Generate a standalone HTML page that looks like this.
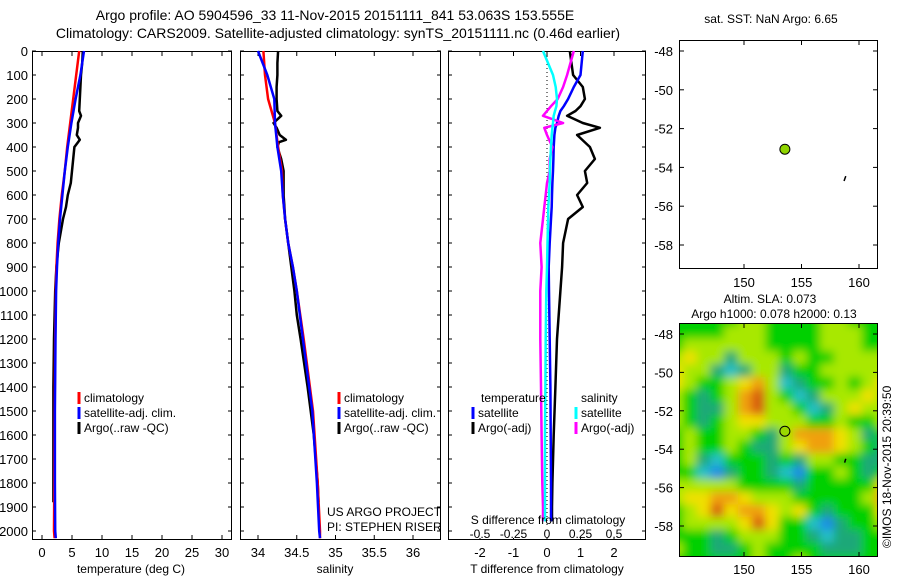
<!DOCTYPE html>
<html><head><meta charset="utf-8"><style>
body{margin:0;background:#fff;}
svg{display:block;font-family:"Liberation Sans","DejaVu Sans",sans-serif;}
text{fill:#000;}
</style></head><body>
<svg id="fig" width="900" height="580" viewBox="0 0 900 580">
<defs>
<filter id="blur" filterUnits="userSpaceOnUse" x="660" y="300" width="240" height="280"><feGaussianBlur stdDeviation="4.5"/></filter>
<clipPath id="mapclip"><rect x="679" y="323" width="198" height="233"/></clipPath>
</defs>
<text x="335" y="20" font-size="14" text-anchor="middle">Argo profile: AO 5904596_33 11-Nov-2015 20151111_841 53.063S 153.555E</text>
<text x="338" y="38" font-size="14" text-anchor="middle">Climatology: CARS2009. Satellite-adjusted climatology: synTS_20151111.nc (0.46d earlier)</text>
<g id="content"></g>
</svg>
<script>
// ---------- data ----------
const depthTicks = [0,100,200,300,400,500,600,700,800,900,1000,1100,1200,1300,1400,1500,1600,1700,1800,1900,2000];
const tempTicks = [0,5,10,15,20,25,30];
const salTicks = [34,34.5,35,35.5,36];
const salTickLabels = ["34","34.5","35","35.5","36"];
const tdiffTicks = [-2,-1,0,1,2];
const sdiffTicks = [-0.5,-0.25,0,0.25,0.5];
const sdiffTickLabels = ["-0.5","-0.25","0","0.25","0.5"];

const climDepth = [0,100,200,300,400,500,600,700,800,900,1000,1200,1500,1800,2000,2030];
const climTemp  = [6.2,5.7,5.2,4.7,4.2,3.8,3.3,2.9,2.6,2.4,2.3,2.2,2.1,2.05,2.0,2.1];
const satTemp   = [7.0,6.4,5.6,4.9,4.3,3.8,3.4,3.0,2.7,2.5,2.35,2.25,2.15,2.15,2.2,2.3];
const climSal   = [34.07,34.09,34.13,34.22,34.26,34.31,34.32,34.35,34.39,34.45,34.5,34.59,34.71,34.77,34.8,34.8];
const satSal    = [34.0,34.12,34.21,34.22,34.25,34.3,34.32,34.35,34.39,34.45,34.5,34.58,34.7,34.76,34.79,34.8];

const argoDepth = [0,50,100,150,200,250,270,300,320,350,370,380,400,450,500,550,600,650,700,800,900,1000,1100,1200,1400,1600,1800,1880];
const argoTemp  = [6.8,6.7,6.5,6.4,6.3,6.2,6.5,6.0,6.0,5.8,6.3,6.0,5.4,5.2,5.0,4.8,4.3,4.0,3.5,2.8,2.4,2.2,2.1,2.0,1.9,1.9,1.9,1.9];
const argoSal   = [34.26,34.25,34.25,34.24,34.24,34.25,34.3,34.2,34.24,34.28,34.36,34.27,34.25,34.3,34.33,34.33,34.33,34.34,34.35,34.39,34.43,34.47,34.5,34.55,34.64,34.72,34.77,34.78];

const diffDepth = [0,100,150,200,230,250,270,300,320,350,400,450,500,550,600,650,700,800,900,1000,1200,1400,1600,1800,1900,1960];
const satTdiff  = [1.07,1.0,0.8,0.63,0.5,0.4,0.35,0.3,0.25,0.22,0.2,0.19,0.18,0.16,0.15,0.14,0.12,0.08,0.05,0.06,0.08,0.1,0.11,0.12,0.12,0.12];
const satSdiff  = [-0.03,0.045,0.065,0.075,0.07,0.06,0.05,0.045,0.04,0.035,0.03,0.025,0.022,0.02,0.015,0.01,0.008,0.004,0.0,-0.005,-0.01,-0.012,-0.015,-0.015,-0.015,-0.015];
const argoTdiff = [0.68,0.78,1.07,1.13,1.0,0.85,0.6,1.07,1.58,0.9,1.28,1.43,1.13,1.2,0.9,1.07,0.63,0.48,0.45,0.4,0.3,0.25,0.2,0.16,0.15,0.15];
const argoSdiff = [0.2,0.15,0.12,0.08,0.03,0.0,-0.03,0.12,-0.02,0.0,0.04,0.02,0.02,0.0,-0.01,-0.02,-0.03,-0.05,-0.04,-0.05,-0.05,-0.045,-0.04,-0.035,-0.03,-0.03];

const mapLonTicks = [150,155,160];
const mapLatTicks = [-48,-50,-52,-54,-56,-58];
const argoLon = 153.555, argoLat = -53.063;
// SLA anomaly class grid (rows north->south, cols west->east)
const slaGrid = [
[0,0,0,0,0,1,1,0,0,0,0,1,1,0,0,0],
[0,0,0,0,1,1,1,0,0,0,0,1,1,1,0,0],
[0,1,1,1,1,1,1,0,0,0,0,1,1,1,0,0],
[1,2,1,1,-1,1,1,1,0,1,0,0,1,1,1,1],
[2,1,1,-1,-2,-1,1,1,-1,0,0,1,1,1,1,1],
[2,1,0,0,1,2,3,1,-2,-1,0,0,1,0,1,2],
[1,0,-1,0,1,3,4,1,0,-2,-1,1,1,1,2,1],
[1,0,-1,-1,1,3,4,1,1,0,-2,-1,1,2,1,1],
[1,0,-1,0,1,2,2,1,1,1,0,0,1,0,0,1],
[0,1,0,0,1,1,0,-1,1,3,3,3,2,1,-1,0],
[0,1,0,0,1,0,-1,-1,1,2,3,3,2,1,0,-1],
[0,1,-1,-2,0,0,0,-1,0,-1,1,1,0,0,-1,-1],
[0,0,-2,-3,-1,0,0,-1,-2,-3,0,0,1,0,-1,0],
[1,1,1,1,1,0,0,0,0,-1,0,0,0,0,0,2],
[1,2,2,3,3,2,1,1,1,0,0,0,0,0,1,3],
[0,1,2,4,2,3,3,2,1,2,0,-1,0,0,0,2],
[0,1,1,1,1,2,4,2,0,0,-2,-3,-1,0,0,1],
[0,0,0,-1,0,1,1,1,0,0,-1,-2,-1,-1,0,0],
[1,0,0,-1,-1,0,1,0,0,0,0,-1,-1,-1,0,0],
[0,0,0,0,0,0,1,0,0,1,0,0,0,0,0,0]];

// ---------- drawing ----------
const NS="http://www.w3.org/2000/svg";
const root=document.getElementById('content');
function el(tag,attrs,parent){const e=document.createElementNS(NS,tag);for(const k in attrs)e.setAttribute(k,attrs[k]);(parent||root).appendChild(e);return e;}
function txt(x,y,s,size,anchor,parent){const t=el('text',{x:x,y:y,'font-size':size||13,'text-anchor':anchor||'middle'},parent);t.textContent=s;return t;}

const yD = d => 51 + d*0.24;
const xT = v => 42 + v*6;
const xS = v => 258 + (v-34)*77.5;
const xTd = v => 547 + v*33.5;
const xSd = v => 547 + v*134;
const mapX = lon => 744 + (lon-150)*11.5;

function panel(x0,x1,name){
  const g=el('g',{});
  
  
  el('rect',{x:x0+0.5,y:51.5,width:x1-x0,height:488,fill:'none',stroke:'#000','stroke-width':1},g);
  return g;
}
function series(g,xs,ds,fx,color,w,name){
  const p=el('polyline',{points:xs.map((v,i)=>fx(v).toFixed(1)+','+yD(ds[i]).toFixed(1)).join(' '),fill:'none',stroke:color,'stroke-width':w,'stroke-linejoin':'round'},g);
  
  
}
function xticks(g,ticks,labels,fx,ly,top){
  ticks.forEach((t,i)=>{const x=fx(t);
    el('line',{x1:x,y1:539,x2:x,y2:535,stroke:'#000'},g);
    if(top!==false) el('line',{x1:x,y1:52,x2:x,y2:56,stroke:'#000'},g);
    if(labels){const l=txt(x,ly,labels[i],13,'middle',g);
      
      }
  });
}
function yticks(g,x0,x1,labels){
  depthTicks.forEach(d=>{const y=yD(d);
    el('line',{x1:x0,y1:y,x2:x0+4,y2:y,stroke:'#000'},g);
    el('line',{x1:x1,y1:y,x2:x1-4,y2:y,stroke:'#000'},g);
    if(labels){const l=txt(28,y+5,String(d),13,'end',g);
      
      }
  });
}
function legendEntry(g,x,y,color,label){
  const e=el('g',{},g);
  
  
  el('line',{x1:x,y1:y-10,x2:x,y2:y+2,stroke:color,'stroke-width':3},e);
  txt(x+5,y,label,12,'start',e);
}

// panel 1 temperature
const p1=panel(32,231,'temperature-panel');
yticks(p1,32,232,true);
xticks(p1,tempTicks,tempTicks.map(String),xT,557);
series(p1,argoTemp,argoDepth,xT,'#000',2.5,'argo-temperature-line');
series(p1,climTemp,climDepth,xT,'#f00',2.5,'climatology-temperature-line');
series(p1,satTemp,climDepth,xT,'#00f',2.5,'satellite-temperature-line');
txt(131,573,'temperature (deg C)',12,'middle',p1);
legendEntry(p1,79,402,'#f00','climatology');
legendEntry(p1,79,417,'#00f','satellite-adj. clim.');
legendEntry(p1,79,432,'#000','Argo(..raw -QC)');

// panel 2 salinity
const p2=panel(240,440,'salinity-panel');
yticks(p2,240,441,false);
xticks(p2,salTicks,salTickLabels,xS,557);
series(p2,argoSal,argoDepth,xS,'#000',2.5,'argo-salinity-line');
series(p2,climSal,climDepth,xS,'#f00',2.5,'climatology-salinity-line');
series(p2,satSal,climDepth,xS,'#00f',2.5,'satellite-salinity-line');
txt(335,573,'salinity',12,'middle',p2);
legendEntry(p2,339,402,'#f00','climatology');
legendEntry(p2,339,417,'#00f','satellite-adj. clim.');
legendEntry(p2,339,432,'#000','Argo(..raw -QC)');
txt(327,516,'US ARGO PROJECT',12,'start',p2);
txt(327,531,'PI: STEPHEN RISER',12,'start',p2);

// panel 3 differences
const p3=panel(448,645,'difference-panel');
yticks(p3,448,646,false);
xticks(p3,tdiffTicks,tdiffTicks.map(String),xTd,557);
el('line',{x1:547,y1:52,x2:547,y2:539,stroke:'#000','stroke-width':1,'stroke-dasharray':'1,3'},p3);
series(p3,argoTdiff,diffDepth,xTd,'#000',2.5,'argo-t-diff-line');
series(p3,satTdiff,diffDepth,xTd,'#00f',2.5,'satellite-t-diff-line');
series(p3,argoSdiff,diffDepth,xSd,'#f0f',2.5,'argo-s-diff-line');
series(p3,satSdiff,diffDepth,xSd,'#0ff',2.5,'satellite-s-diff-line');
txt(547,573,'T difference from climatology',12,'middle',p3);
txt(548,524,'S difference from climatology',12,'middle',p3);
el('rect',{x:455,y:527,width:185,height:11,fill:'#fff'},p3);
sdiffTicks.forEach((t,i)=>{const l=txt(xSd(t),538,sdiffTickLabels[i],12,'middle',p3);
  
  });
txt(481,402,'temperature',12,'start',p3);
txt(581,402,'salinity',12,'start',p3);
legendEntry(p3,473,417,'#00f','satellite');
legendEntry(p3,473,432,'#000','Argo(-adj)');
legendEntry(p3,576,417,'#0ff','satellite');
legendEntry(p3,576,432,'#f0f','Argo(-adj)');

// map 1 SST
const m1=el('g',{});


el('rect',{x:679.5,y:40.5,width:198,height:228,fill:'#fff',stroke:'#000'},m1);
txt(771,23,'sat. SST: NaN Argo: 6.65',12,'middle',m1);
const lat1 = v => 51 + (-48 - v)*19.4;
mapLatTicks.forEach(t=>{const y=lat1(t);el('line',{x1:680,y1:y,x2:684,y2:y,stroke:'#000'},m1);el('line',{x1:877,y1:y,x2:873,y2:y,stroke:'#000'},m1);txt(673,y+5,String(t),13,'end',m1);});
mapLonTicks.forEach(t=>{const x=mapX(t);el('line',{x1:x,y1:268,x2:x,y2:264,stroke:'#000'},m1);el('line',{x1:x,y1:41,x2:x,y2:45,stroke:'#000'},m1);txt(x,287,String(t),13,'middle',m1);});
const dot1=el('circle',{cx:mapX(argoLon),cy:lat1(argoLat),r:5,fill:'#8fd400',stroke:'#000'},m1);


el('line',{x1:mapX(158.7),y1:lat1(-54.7),x2:mapX(158.85),y2:lat1(-54.45),stroke:'#000','stroke-width':1.5},m1);

// map 2 SLA
const m2=el('g',{});


txt(770,303,'Altim. SLA: 0.073',12,'middle',m2);
txt(774,318,'Argo h1000: 0.078 h2000: 0.13',12,'middle',m2);
const colors={'-3':'#1c8ce6','-2':'#22c0c8','-1':'#1ea878','0':'#00d000','1':'#a8e800','2':'#f0e000','3':'#f0a010','4':'#d85a10'};
const cg=el('g',{'clip-path':'url(#mapclip)'},m2);
const hm=el('g',{filter:'url(#blur)'},cg);
const nr=slaGrid.length, nc=slaGrid[0].length;
const cw=220/nc, ch=255/nr;
slaGrid.forEach((row,r)=>row.forEach((v,c)=>{
  const cell=el('rect',{x:(669+c*cw).toFixed(1),y:(313+r*ch).toFixed(1),width:(cw+0.6).toFixed(1),height:(ch+0.6).toFixed(1),fill:colors[v]},hm);
  
  
}));
el('rect',{x:679.5,y:323.5,width:198,height:233,fill:'none',stroke:'#000'},m2);
const lat2 = v => 334 + (-48 - v)*19.2;
mapLatTicks.forEach(t=>{const y=lat2(t);el('line',{x1:680,y1:y,x2:684,y2:y,stroke:'#000'},m2);el('line',{x1:877,y1:y,x2:873,y2:y,stroke:'#000'},m2);txt(673,y+5,String(t),13,'end',m2);});
mapLonTicks.forEach(t=>{const x=mapX(t);el('line',{x1:x,y1:556,x2:x,y2:552,stroke:'#000'},m2);el('line',{x1:x,y1:324,x2:x,y2:328,stroke:'#000'},m2);txt(x,574,String(t),13,'middle',m2);});
const dot2=el('circle',{cx:mapX(argoLon),cy:lat2(argoLat),r:5,fill:'#9ad800',stroke:'#000'},m2);


el('line',{x1:mapX(158.75),y1:lat2(-54.7),x2:mapX(158.85),y2:lat2(-54.5),stroke:'#000','stroke-width':1.5},m2);
const cr=txt(0,0,'©IMOS 18-Nov-2015 20:39:50',12,'start',m2);
cr.setAttribute('transform','translate(891,548) rotate(-90)');


</script>
</body></html>
